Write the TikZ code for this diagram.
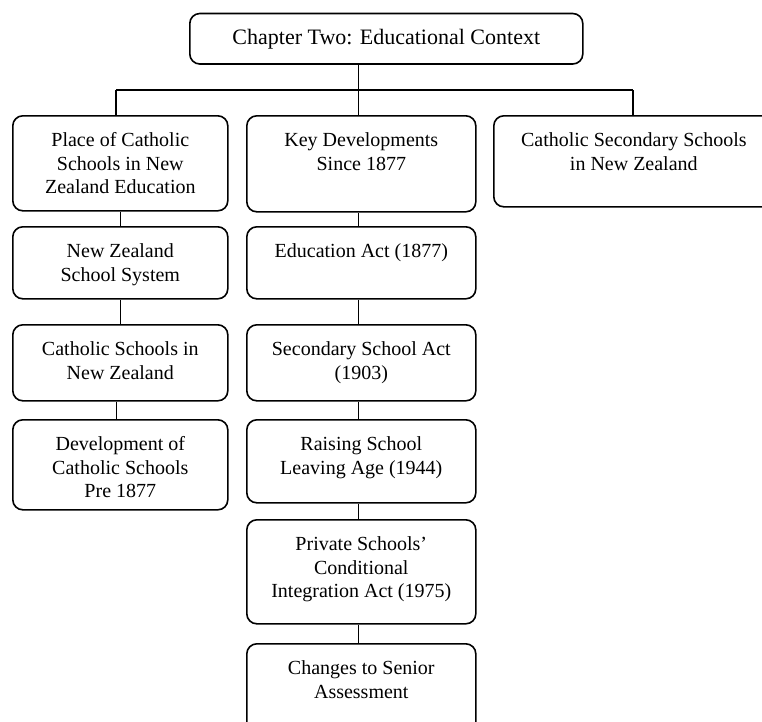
\documentclass[tikz,border=0pt]{standalone}
\usepackage{fontspec}
\setmainfont{Liberation Serif}
\usetikzlibrary{calc}

% Box contents: fixed-size parbox, lines set from the top
\newcommand\cardtext[3]{\parbox[c][#2][t]{#1}{\centering\rule{0pt}{31pt}#3}}

\tikzset{
  card/.style={draw, rounded corners=10pt, line width=1.6pt, inner sep=0pt,
    anchor=north west, font=\fontsize{20pt}{23.5pt}\selectfont},
  titlecard/.style={card, font=\fontsize{22pt}{25pt}\selectfont},
  link/.style={line width=1.5pt}
}

\begin{document}
\begin{tikzpicture}[x=1pt,y=-1pt]
\clip (0,0) rectangle (762,721);
\fill[white] (0,0) rectangle (762,721);

% title
\node[titlecard] (top) at (189,12.7) {\cardtext{393pt}{50.5pt}{Chapter Two: Educational Context}};

% left column
\node[card] (L1) at (12,115) {\cardtext{215pt}{95pt}{Place of Catholic\\Schools in New\\Zealand Education}};
\node[card] (L2) at (12,226) {\cardtext{215pt}{72pt}{New Zealand\\School System}};
\node[card] (L3) at (12,324) {\cardtext{215pt}{76pt}{Catholic Schools in\\New Zealand}};
\node[card] (L4) at (12,419) {\cardtext{215pt}{90pt}{Development of\\Catholic Schools\\Pre 1877}};

% middle column
\node[card] (M1) at (246,115) {\cardtext{229pt}{96pt}{Key Developments\\Since 1877}};
\node[card] (M2) at (246,226) {\cardtext{229pt}{72pt}{Education Act (1877)}};
\node[card] (M3) at (246,324) {\cardtext{229pt}{76pt}{Secondary School Act\\(1903)}};
\node[card] (M4) at (246,419) {\cardtext{229pt}{83pt}{Raising School\\Leaving Age (1944)}};
\node[card] (M5) at (246,519) {\cardtext{229pt}{104pt}{Private Schools’\\Conditional\\Integration Act (1975)}};
\node[card] (M6) at (246,643) {\cardtext{229pt}{97pt}{Changes to Senior\\Assessment}};

% right column
\node[card] (R1) at (493,115) {\cardtext{280pt}{91pt}{Catholic Secondary Schools\\in New Zealand}};

% branch bus under the title
\coordinate (hub) at ($(M1.north)+(-3,-25)$);
\coordinate (busL) at ($(L1.north)+(-4.5,-25)$);
\coordinate (busR) at ($(R1.north)+(-1,-25)$);
\draw[link] (top.south -| hub) -- (hub);
\draw[link] (busL) -- (busR);
\draw[link] (busL) -- (busL |- L1.north);
\draw[link] (hub) -- (hub |- M1.north);
\draw[link] (busR) -- (busR |- R1.north);

% left column chain
\draw[link] (L1.south) -- (L2.north);
\draw[link] (L2.south) -- (L3.north);
\draw[link] ($(L3.south)+(-4,0)$) -- ($(L4.north)+(-4,0)$);

% middle column chain
\foreach \a/\b in {M1/M2, M2/M3, M3/M4, M4/M5, M5/M6}
  \draw[link] ($(\a.south)+(-3,0)$) -- ($(\b.north)+(-3,0)$);
\end{tikzpicture}
\end{document}
